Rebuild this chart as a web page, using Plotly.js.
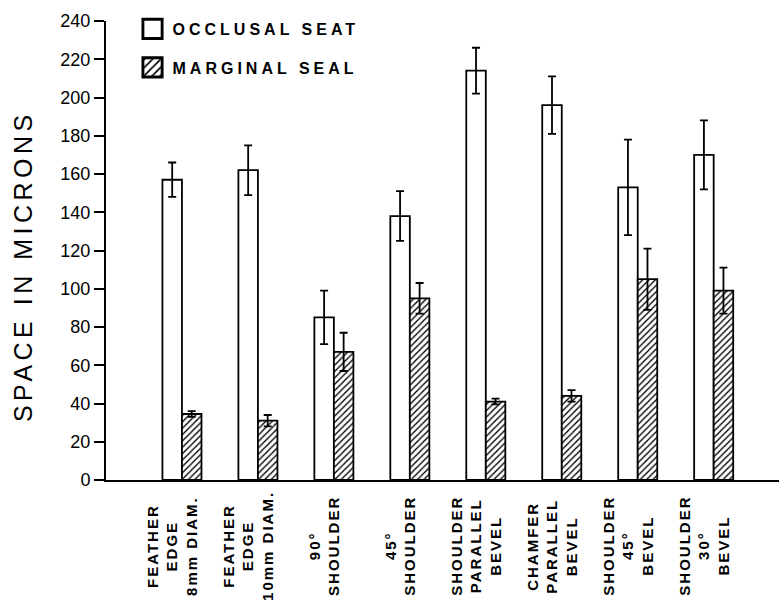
<!DOCTYPE html>
<html>
<head>
<meta charset="utf-8">
<script src="https://cdn.plot.ly/plotly-3.0.1.min.js"></script>
<style>
  html, body { margin: 0; padding: 0; background: #fff; }
  #chart { width: 779px; height: 602px; }
  .infolayer g[class^="legend"] text, text.legendtext { letter-spacing: 4px !important; }
  .infolayer g[class^="legend"], .infolayer g[class^="legend"] g { clip-path: none !important; }
  .annotation-text { letter-spacing: 2px; }
  .annotation[data-index="0"] .annotation-text { letter-spacing: 4.5px; }
  .legendpoints path { transform-box: fill-box; transform-origin: center; transform: translate(20px, 0px) scale(1.6); }
</style>
</head>
<body>
<div id="chart"></div>
<script>
// ---- data ----
const categories = [
  "FEATHER<br>EDGE<br>8mm DIAM.",
  "FEATHER<br>EDGE<br>10mm DIAM.",
  "90°<br>SHOULDER",
  "45°<br>SHOULDER",
  "SHOULDER<br>PARALLEL<br>BEVEL",
  "CHAMFER<br>PARALLEL<br>BEVEL",
  "SHOULDER<br>45°<br>BEVEL",
  "SHOULDER<br>30°<br>BEVEL"
];
const seriesNames = ["OCCLUSAL SEAT", "MARGINAL SEAL"];
const occlusalSeat = [157, 162, 85, 138, 214, 196, 153, 170];
const occlusalSeatErr = [9, 13, 14, 13, 12, 15, 25, 18];
const marginalSeal = [34.5, 31, 67, 95, 41, 44, 105, 99];
const marginalSealErr = [1.5, 3, 10, 8, 1.5, 3, 16, 12];
const yTicks = [0, 20, 40, 60, 80, 100, 120, 140, 160, 180, 200, 220, 240];
const yTitle = "SPACE IN MICRONS";

const FONT = "Liberation Sans, Arial, Helvetica, sans-serif";

const traces = [
  {
    type: "bar",
    name: seriesNames[0],
    x: categories,
    y: occlusalSeat,
    marker: { color: "#ffffff", line: { color: "#000", width: 1.8 } },
    error_y: { type: "data", array: occlusalSeatErr, visible: true, color: "#000", thickness: 1.8, width: 4 },
    legend: "legend"
  },
  {
    type: "bar",
    name: seriesNames[1],
    x: categories,
    y: marginalSeal,
    marker: {
      color: "#ffffff",
      line: { color: "#000", width: 1.8 },
      pattern: { shape: "/", fgcolor: "#000", bgcolor: "#fff", size: 4.5, solidity: 0.3 }
    },
    error_y: { type: "data", array: marginalSealErr, visible: true, color: "#000", thickness: 1.8, width: 4 },
    legend: "legend2"
  }
];

const annotations = [
  {
    text: yTitle, xref: "paper", yref: "paper", x: -0.124, y: 0.465,
    textangle: -90, showarrow: false, xanchor: "center", yanchor: "middle",
    font: { family: FONT, size: 25, color: "#000" }
  }
];
categories.forEach((c, i) => {
  annotations.push({
    text: c, xref: "x", yref: "paper", x: i, y: -0.1438,
    textangle: -90, showarrow: false, xanchor: "center", yanchor: "middle",
    align: "center", xshift: -10,
    font: { family: FONT, size: 15, color: "#000", weight: "bold" }
  });
});

const legendFont = { family: FONT, size: 16, color: "#000", weight: "bold" };

const layout = {
  width: 779, height: 602,
  margin: { l: 106, r: 0, t: 21, b: 122 },
  paper_bgcolor: "#fff", plot_bgcolor: "#fff",
  barmode: "group", bargap: 0.486, bargroupgap: 0,
  font: { family: FONT, color: "#000" },
  showlegend: true,
  legend: { x: 0.0394, y: 0.9826, xanchor: "left", yanchor: "middle", bgcolor: "rgba(0,0,0,0)", font: legendFont, borderwidth: 0 },
  legend2: { x: 0.0394, y: 0.8987, xanchor: "left", yanchor: "middle", bgcolor: "rgba(0,0,0,0)", font: legendFont, borderwidth: 0 },
  xaxis: {
    type: "category", range: [-1, 7.86],
    showline: true, linecolor: "#000", linewidth: 2,
    showticklabels: false, ticks: "", showgrid: false, zeroline: false, fixedrange: true
  },
  yaxis: {
    range: [0, 240], tickvals: yTicks, ticktext: yTicks.map(String),
    showline: true, linecolor: "#000", linewidth: 2,
    ticks: "outside", ticklen: 10, tickwidth: 2, tickcolor: "#000",
    tickfont: { family: FONT, size: 18, color: "#000" },
    showgrid: false, zeroline: false, fixedrange: true
  },
  annotations: annotations
};

Plotly.newPlot("chart", traces, layout, { staticPlot: true, displayModeBar: false });
</script>
</body>
</html>
